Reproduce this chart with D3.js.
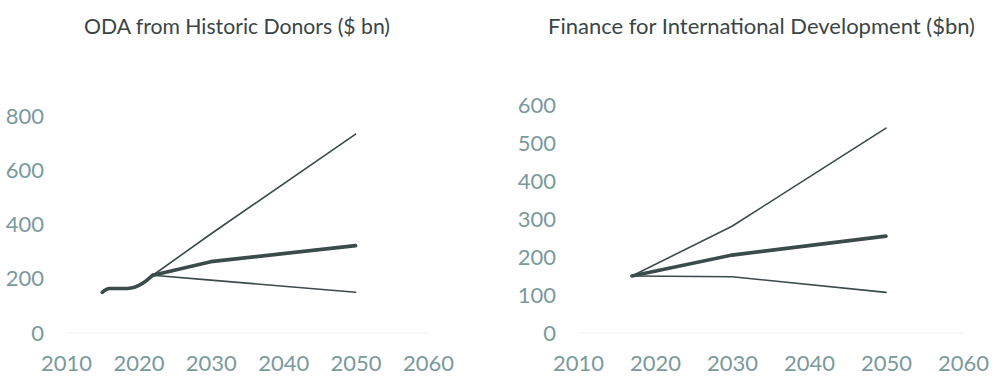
<!DOCTYPE html>
<html><head><meta charset="utf-8">
<script src="https://cdn.jsdelivr.net/npm/d3@7"></script>
<style>body{margin:0;background:#fff;} svg{display:block;}</style>
</head><body>
<svg id="chart" width="1000" height="385"></svg>
<script>
// Left chart: ODA from Historic Donors ($ bn)
const odaHistYears = [2015, 2016, 2017, 2018, 2019, 2020, 2021, 2022];
const odaHistValues = [150, 164, 164, 164, 166, 175, 191, 213];
const odaProjYears = [2022, 2030, 2050];
const odaCentral = [213, 263, 322];
const odaHigh = [213, 365, 733];
const odaLow = [213, 195, 150];
const odaYTicks = [0, 200, 400, 600, 800];

// Right chart: Finance for International Development ($bn)
const fidYears = [2017, 2030, 2050];
const fidCentral = [150, 205, 255];
const fidHigh = [150, 281, 539];
const fidLow = [150, 148, 107];
const fidYTicks = [0, 100, 200, 300, 400, 500, 600];

const xTicks = [2010, 2020, 2030, 2040, 2050, 2060];
const titles = ["ODA from Historic Donors ($ bn)", "Finance for International Development ($bn)"];

const svg = d3.select("#chart");
const lineColor = "#3b4a4a";
const tickColor = "#7a9a9c";
const font = "Lato, 'Open Sans', sans-serif";

function panel(cfg) {
  const x = d3.scaleLinear().domain([2010, 2060]).range(cfg.xr);
  const y = d3.scaleLinear().domain([0, cfg.ymax]).range([333, cfg.ytop]);
  const g = svg.append("g");

  g.append("line").attr("x1", cfg.xr[0]).attr("x2", cfg.xr[1])
    .attr("y1", y(0)).attr("y2", y(0))
    .attr("stroke", "#eef3f3").attr("stroke-width", 1);

  const ya = g.append("g").attr("transform", `translate(${cfg.xr[0]},0)`)
    .call(d3.axisLeft(y).tickValues(cfg.yticks).tickSize(0).tickPadding(22).tickFormat(d3.format("d")));
  const xa = g.append("g").attr("transform", `translate(0,${y(0)})`)
    .call(d3.axisBottom(x).tickValues(xTicks).tickSize(0).tickPadding(22).tickFormat(d3.format("d")));
  [ya, xa].forEach(a => {
    a.select(".domain").remove();
    a.selectAll("text").attr("fill", tickColor).style("font-family", font).style("font-size", "22px");
  });

  cfg.series.forEach(s => {
    const line = d3.line().x(d => x(d[0])).y(d => y(d[1])).curve(s.curve);
    g.append("path").datum(s.years.map((yr, i) => [yr, s.values[i]]))
      .attr("d", line).attr("fill", "none").attr("stroke", lineColor)
      .attr("stroke-width", s.w).attr("stroke-linecap", "round").attr("stroke-linejoin", "round");
  });

  const t = g.append("text").text(cfg.title)
    .attr("x", cfg.tx[0]).attr("y", 34)
    .attr("fill", "#3a4545").style("font-family", font).style("font-size", "21px");
  t.attr("textLength", cfg.tx[1] - cfg.tx[0]).attr("lengthAdjust", "spacingAndGlyphs");
}

const straight = d3.curveLinear;
const smooth = d3.curveMonotoneX;

panel({
  xr: [66, 428], ymax: 800, ytop: 116, yticks: odaYTicks, title: titles[0], tx: [84, 390],
  series: [
    {years: odaProjYears, values: odaHigh, w: 1.6, curve: straight},
    {years: odaProjYears, values: odaLow, w: 1.6, curve: straight},
    {years: odaHistYears, values: odaHistValues, w: 3.6, curve: smooth},
    {years: odaProjYears, values: odaCentral, w: 3.6, curve: straight}
  ]
});

panel({
  xr: [578, 963], ymax: 600, ytop: 105, yticks: fidYTicks, title: titles[1], tx: [548, 975],
  series: [
    {years: fidYears, values: fidHigh, w: 1.6, curve: straight},
    {years: fidYears, values: fidLow, w: 1.6, curve: straight},
    {years: fidYears, values: fidCentral, w: 3.6, curve: straight}
  ]
});
</script>
</body></html>
